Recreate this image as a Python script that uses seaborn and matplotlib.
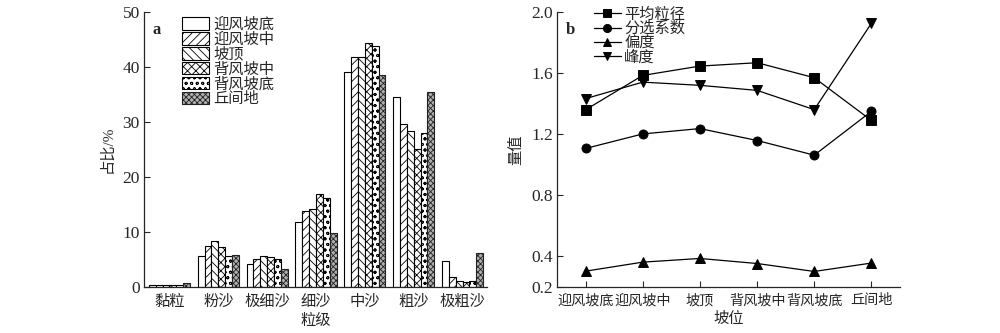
import numpy as np
import pandas as pd
import matplotlib
matplotlib.use("Agg")
import matplotlib.pyplot as plt
import seaborn as sns

# ---- data ----
grain_classes = ["黏粒", "粉沙", "极细沙", "细沙", "中沙", "粗沙", "极粗沙"]
positions = ["迎风坡底", "迎风坡中", "坡顶", "背风坡中", "背风坡底", "丘间地"]
v_ying_di = [0.35, 5.6, 4.1, 11.8, 39.1, 34.5, 4.65]
v_ying_zhong = [0.35, 7.45, 5.15, 13.9, 41.9, 29.6, 1.8]
v_po_ding = [0.35, 8.3, 5.7, 14.2, 41.9, 28.4, 1.15]
v_bei_zhong = [0.35, 7.3, 5.4, 16.9, 44.4, 25.1, 0.9]
v_bei_di = [0.35, 5.7, 5.15, 16.2, 43.8, 28.0, 1.15]
v_qiu = [0.8, 5.9, 3.3, 9.8, 38.5, 35.5, 6.2]

params = ["平均粒径", "分选系数", "偏度", "峰度"]
mean_size = [1.36, 1.585, 1.646, 1.668, 1.57, 1.29]
sorting = [1.107, 1.202, 1.237, 1.159, 1.063, 1.35]
skewness = [0.304, 0.363, 0.387, 0.354, 0.302, 0.357]
kurtosis = [1.433, 1.541, 1.52, 1.487, 1.361, 1.926]

# ---- style ----
sns.set_theme(style="ticks")
plt.rcParams["font.family"] = ["Liberation Serif", "Noto Sans CJK SC"]
plt.rcParams["hatch.linewidth"] = 0.6
plt.rcParams["axes.linewidth"] = 0.9
plt.rcParams["xtick.direction"] = "in"
plt.rcParams["ytick.direction"] = "in"

NUM_FS = 12.5
CJK_FS = 11

fig = plt.figure(figsize=(10, 3.33), dpi=100)
ax1 = fig.add_axes([0.144, 0.138, 0.343, 0.826])
ax2 = fig.add_axes([0.557, 0.138, 0.343, 0.826])

# ---- panel a ----
series = [v_ying_di, v_ying_zhong, v_po_ding, v_bei_zhong, v_bei_di, v_qiu]
rows = []
for pos, vals in zip(positions, series):
    for g, v in zip(grain_classes, vals):
        rows.append({"粒级": g, "坡位": pos, "占比": v})
df_a = pd.DataFrame(rows)

sns.barplot(data=df_a, x="粒级", y="占比", hue="坡位", order=grain_classes,
            hue_order=positions, palette=["white"] * 6, edgecolor="black",
            linewidth=0.8, width=0.84, legend=False, ax=ax1, errorbar=None)
hatches = ["", "////", "\\\\\\\\", "xxxx", "ooo", "xxxxxx"]
for i, (cont, h) in enumerate(zip(ax1.containers, hatches)):
    for p in cont:
        p.set_hatch(h)
        if i == 5:
            p.set_edgecolor("#222222")
            p.set_facecolor("#b0b0b0")
ax1.set_ylim(0, 50)
ax1.set_xlim(-0.52, 6.5)
ax1.set_yticks([0, 10, 20, 30, 40, 50])
ax1.tick_params(axis="y", labelsize=NUM_FS, length=4, width=0.8, pad=3)
ax1.tick_params(axis="x", labelsize=CJK_FS, length=0, pad=6)
ax1.set_xlabel("粒级", fontsize=CJK_FS, labelpad=3)
ax1.set_ylabel("占比/%", fontsize=CJK_FS, labelpad=6)
sns.despine(ax=ax1)
ax1.text(0.025, 0.965, "a", transform=ax1.transAxes, fontsize=12,
         fontweight="bold", va="top", ha="left")
ax1.legend(ax1.containers, positions, loc="upper left",
           bbox_to_anchor=(0.085, 1.015), frameon=False, fontsize=CJK_FS,
           handlelength=1.75, handleheight=0.9, handletextpad=0.3,
           labelspacing=0.02, borderaxespad=0.2)

# ---- panel b ----
rows = []
for name, vals in zip(params, [mean_size, sorting, skewness, kurtosis]):
    for pos, v in zip(positions, vals):
        rows.append({"坡位": pos, "参数": name, "量值": v})
df_b = pd.DataFrame(rows)

sns.pointplot(data=df_b, x="坡位", y="量值", hue="参数", order=positions,
              hue_order=params, palette=["black"] * 4,
              markers=["s", "o", "^", "v"], linestyles="-", errorbar=None,
              markersize=6.5, linewidth=0.9, ax=ax2)
ax2.set_ylim(0.2, 2.0)
ax2.set_xlim(-0.5, 5.5)
ax2.set_yticks([0.2, 0.4, 0.8, 1.2, 1.6, 2.0])
ax2.set_yticklabels(["0.2", "0.4", "0.8", "1.2", "1.6", "2.0"])
ax2.tick_params(axis="y", labelsize=NUM_FS, length=4, width=0.8, pad=3)
ax2.tick_params(axis="x", labelsize=10.2, length=4, width=0.8, pad=5)
ax2.set_xlabel("坡位", fontsize=CJK_FS, labelpad=3)
ax2.set_ylabel("量值", fontsize=CJK_FS, labelpad=6)
sns.despine(ax=ax2)
ax2.text(0.025, 0.965, "b", transform=ax2.transAxes, fontsize=12,
         fontweight="bold", va="top", ha="left")
ax2.legend(loc="upper left", bbox_to_anchor=(0.08, 1.05), frameon=False,
           fontsize=CJK_FS, handlelength=1.8, handletextpad=0.2,
           labelspacing=0.0, borderaxespad=0.2, markerscale=0.9)

fig.savefig("out.png", dpi=100)
